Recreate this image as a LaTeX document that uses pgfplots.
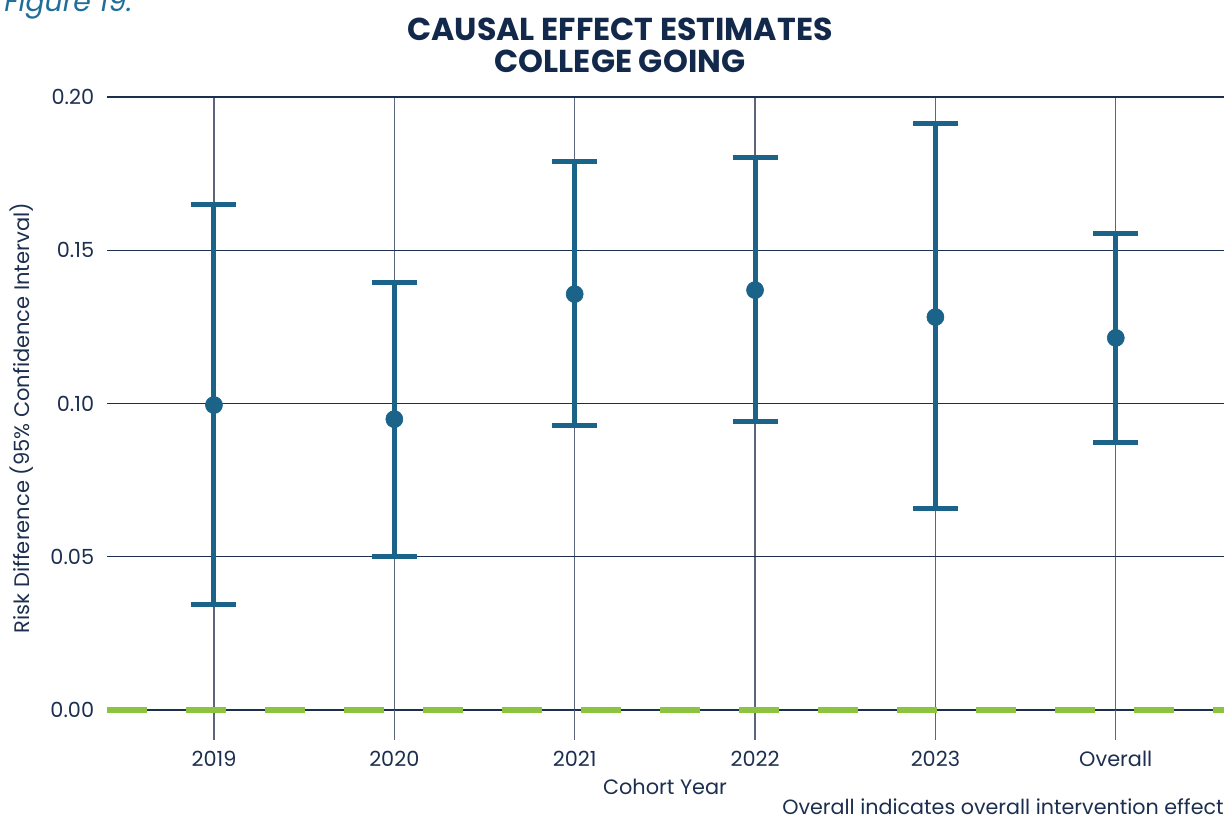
\documentclass[border=0pt]{standalone}
\usepackage{fontspec}
\setmainfont{Poppins}
\usepackage{pgfplots}
\usepackage{pgfplotstable}
\pgfplotsset{compat=1.18}

\definecolor{navy}{HTML}{1C2F4F}
\definecolor{titlenavy}{HTML}{13294B}
\definecolor{barblue}{HTML}{1B6388}
\definecolor{gridv}{HTML}{5A667C}
\definecolor{refgreen}{HTML}{8CC43F}
\definecolor{figblue}{HTML}{1F6E99}

% Risk difference estimates with 95% confidence limits, per cohort
\pgfplotstableread{
x  est     lo      hi
0  0.0995  0.0343  0.1650
1  0.0949  0.0502  0.1396
2  0.1357  0.0927  0.1788
3  0.1370  0.0940  0.1804
4  0.1282  0.0656  0.1912
5  0.1214  0.0874  0.1556
}\estimates

\begin{document}
\begin{tikzpicture}
\useasboundingbox (0,0) rectangle (736.2pt,-492pt);

\node[anchor=base west, inner sep=0pt, text=figblue, font=\fontsize{17}{19}\selectfont\itshape] at (2.4pt,-7.2pt) {Figure 19.};

\node[align=center, text=titlenavy, font=\fontsize{19}{19.2}\selectfont\bfseries] at (372pt,-27pt)
  {CAUSAL EFFECT ESTIMATES\\COLLEGE GOING};

\begin{axis}[
  at={(64.2pt,-426pt)}, anchor=south west,
  scale only axis, width=670.2pt, height=367.8pt,
  xmin=-0.593, xmax=5.6, ymin=0, ymax=0.2,
  axis line style={draw=none},
  xtick={0,1,2,3,4,5},
  xticklabels={2019,2020,2021,2022,2023,Overall},
  ytick={0,0.05,0.10,0.15,0.20},
  yticklabel style={xshift=13.8pt, /pgf/number format/.cd, fixed, fixed zerofill, precision=2},
  xticklabel style={yshift=-3pt},
  /pgf/number format/assume math mode=true,
  xmajorgrids, ymajorgrids,
  x grid style={gridv, line width=0.7pt},
  y grid style={navy, line width=0.7pt},
  tick align=outside,
  xtick pos=bottom,
  major tick length=18pt,
  xtick style={gridv, line width=0.7pt},
  ytick style={draw=none},
  tick label style={text=navy, font=\fontsize{12.5}{14}\selectfont},
  clip=false,
]
% zero reference line
\addplot[refgreen, line width=3.6pt, dash pattern=on 23.7pt off 23.7pt]
  coordinates {(-0.593,0) (5.6,0)};
% point estimates with confidence intervals
\addplot[barblue, only marks, mark=*, mark size=5.1pt,
  mark options={fill=barblue, draw=barblue},
  error bars/.cd, y dir=both, y explicit,
  error bar style={line width=3pt, barblue},
  error mark options={rotate=90, mark size=13.5pt, line width=3pt, barblue}]
  table[x=x, y=est,
        y error plus expr=\thisrow{hi}-\thisrow{est},
        y error minus expr=\thisrow{est}-\thisrow{lo}] {\estimates};
\end{axis}

\node[rotate=90, text=navy, font=\fontsize{12.6}{14}\selectfont] at (13.2pt,-250.8pt)
  {Risk Difference (95\% Confidence Interval)};
\node[anchor=base, inner sep=0pt, text=navy, font=\fontsize{12.5}{14}\selectfont] at (399pt,-476.4pt) {Cohort Year};
\node[anchor=base east, text=navy, font=\fontsize{12.4}{14}\selectfont, inner sep=0pt] at (734.4pt,-488.4pt)
  {Overall indicates overall intervention effect};
\end{tikzpicture}
\end{document}
